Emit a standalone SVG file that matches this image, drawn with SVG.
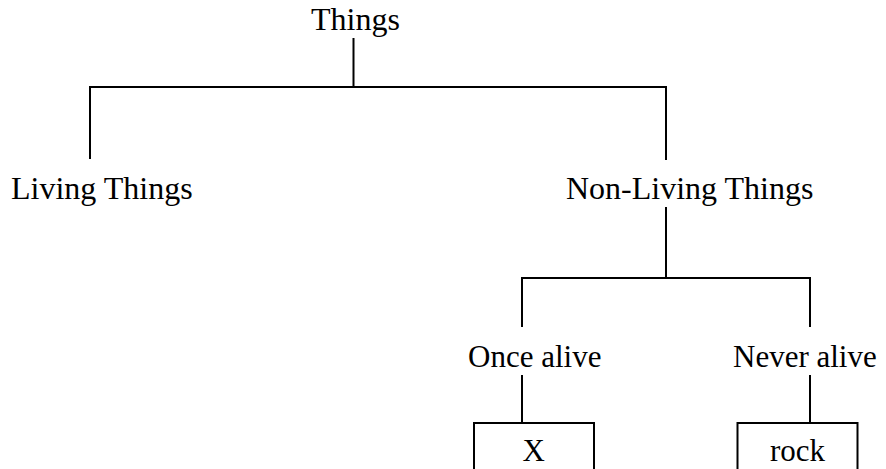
<svg xmlns="http://www.w3.org/2000/svg" width="886" height="469" viewBox="0 0 886 469">
  <style>
    .bg { fill: #ffffff; }
    .lbl { font-family: "Liberation Serif", "Times New Roman", serif; fill: #000000; }
    .big { font-size: 32px; }
    .small { font-size: 31px; }
    .link { fill: none; stroke: #000000; stroke-width: 2; }
    .box { fill: #ffffff; stroke: #000000; stroke-width: 2; }
  </style>
  <rect class="bg" x="0" y="0" width="886" height="469"/>

  <!-- tree connectors -->
  <g id="connectors">
    <path class="link" d="M353.5 38 V87"/>
    <path class="link" d="M90 159 V87 H666 V160"/>
    <path class="link" d="M666 207 V278"/>
    <path class="link" d="M522 327 V278 H810 V327"/>
    <path class="link" d="M522 375 V423"/>
    <path class="link" d="M810 375 V423"/>
  </g>

  <g id="things">
    <text class="lbl big" x="311" y="30">Things</text>
  </g>
  <g id="living">
    <text class="lbl big" x="11" y="199">Living Things</text>
  </g>
  <g id="non-living">
    <text class="lbl big" x="566" y="199">Non-Living Things</text>
  </g>
  <g id="once-alive">
    <text class="lbl small" x="468" y="367">Once alive</text>
  </g>
  <g id="never-alive">
    <text class="lbl small" x="733" y="367">Never alive</text>
  </g>
  <g id="x-box">
    <rect class="box" x="474" y="423" width="120" height="70"/>
    <text class="lbl small" x="522.5" y="461">X</text>
  </g>
  <g id="rock-box">
    <rect class="box" x="737.5" y="423" width="120" height="70"/>
    <text class="lbl small" x="770" y="461">rock</text>
  </g>
</svg>
